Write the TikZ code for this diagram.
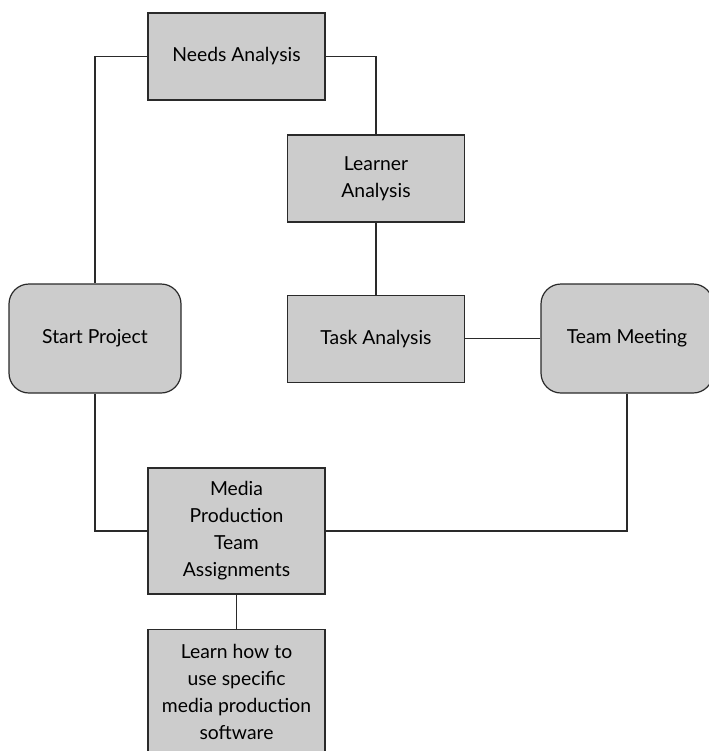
\documentclass[tikz,border=0pt]{standalone}
\usepackage{fontspec}
\setmainfont{Lato}
\usetikzlibrary{positioning}

\definecolor{boxgray}{HTML}{CCCCCC}
\definecolor{edgegray}{HTML}{2A2A2A}

\begin{document}
\begin{tikzpicture}[
  x=0.75pt, y=-0.75pt,
  stage/.style={rectangle, draw=edgegray, line width=0.9pt, fill=boxgray, align=center,
    minimum width=132.75pt, minimum height=65.25pt, inner sep=2pt,
    font=\fontsize{14.5}{20.25}\selectfont},
  tallstage/.style={stage, minimum height=94.5pt},
  event/.style={stage, rounded corners=15pt, minimum width=129pt, minimum height=81.75pt},
  link/.style={draw=edgegray, line width=0.8pt}
]
\useasboundingbox (0,0) rectangle (709,751);

\node[stage] (Needs) at (236.5,56.5) {Needs Analysis};

\node[stage] (Learner) at (376,178.5) {Learner\\Analysis};

\node[stage, below=54pt of Learner] (Task) {Task Analysis};

\node[event] (Start) at (95,338.5) {Start Project};

\node[event] (Team) at (627,338.5) {Team Meeting};

\node[tallstage] (Media) at (236.5,531) {Media\\Production\\Team\\Assignments};

\node[tallstage, below=25.5pt of Media] (Learn) {Learn how to\\use specific\\media production\\software};

\draw[link] (Needs.west) -| (Start.north);
\draw[link] (Needs.east) -| (Learner.north);
\draw[link] (Learner) -- (Task);
\draw[link] (Task.east) -- (Task.east -| Team.west);
\draw[link] (Start.south) |- (Media.west);
\draw[link] (Team.south) |- (Media.east);
\draw[link] (Media) -- (Learn);
\end{tikzpicture}
\end{document}
